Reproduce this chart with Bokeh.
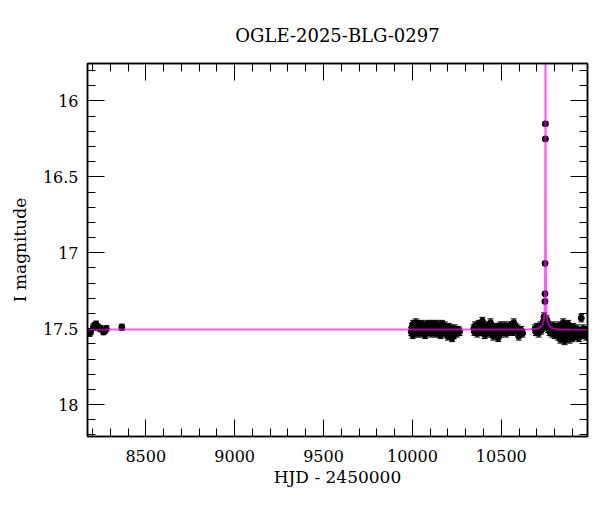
from bokeh.plotting import figure
from bokeh.models import (Whisker, TeeHead, ColumnDataSource, LinearAxis, Range1d,
                          SingleIntervalTicker, CustomJSTickFormatter)
from bokeh.embed import file_html
from bokeh.resources import INLINE

# ---- data (HJD - 2450000, I magnitude) ----
early_t = [8183, 8190, 8205, 8212, 8220, 8232, 8245, 8262, 8270, 8278, 8365]
early_mag = [17.53, 17.52, 17.49, 17.48, 17.47, 17.49, 17.50, 17.52, 17.51, 17.50, 17.49]
early_err = 0.02

s1_t = [9993, 9997, 10001, 10004, 10006, 10009, 10011, 10014, 10017, 10019, 10022, 10025,
        10028, 10031, 10034, 10036, 10039, 10043, 10046, 10049, 10052, 10055, 10058, 10062,
        10065, 10069, 10072, 10075, 10079, 10082, 10086, 10089, 10093, 10096, 10100, 10103,
        10107, 10110, 10114, 10117, 10121, 10124, 10128, 10131, 10135, 10138, 10142, 10145,
        10149, 10152, 10156, 10159, 10163, 10166, 10170, 10174, 10178, 10182, 10186, 10190,
        10195, 10199, 10204, 10209, 10214, 10219, 10224, 10228, 10233, 10238, 10244, 10251,
        10258, 10265]
s1_mag = [17.52, 17.49, 17.54, 17.47, 17.51, 17.50, 17.48, 17.53, 17.50, 17.46, 17.52, 17.49,
          17.51, 17.47, 17.53, 17.50, 17.48, 17.52, 17.49, 17.51, 17.47, 17.53, 17.50, 17.48,
          17.52, 17.49, 17.54, 17.48, 17.51, 17.50, 17.47, 17.52, 17.49, 17.51, 17.48, 17.53,
          17.50, 17.47, 17.52, 17.49, 17.51, 17.48, 17.53, 17.50, 17.47, 17.52, 17.50, 17.48,
          17.53, 17.51, 17.49, 17.54, 17.50, 17.47, 17.52, 17.49, 17.51, 17.48, 17.53, 17.50,
          17.52, 17.55, 17.49, 17.51, 17.53, 17.50, 17.56, 17.52, 17.54, 17.50, 17.52, 17.53,
          17.51, 17.52]
s1_err = 0.025

s2_t = [10345, 10349, 10353, 10357, 10361, 10365, 10369, 10373, 10377, 10381, 10385, 10389,
        10394, 10398, 10402, 10406, 10410, 10414, 10418, 10422, 10426, 10430, 10434, 10439,
        10443, 10447, 10451, 10455, 10459, 10463, 10467, 10471, 10475, 10479, 10483, 10487,
        10491, 10495, 10499, 10503, 10507, 10511, 10515, 10519, 10523, 10527, 10531, 10535,
        10539, 10543, 10547, 10551, 10555, 10560, 10565, 10570, 10575, 10580, 10586, 10592,
        10598, 10604, 10612, 10620]
s2_mag = [17.50, 17.52, 17.48, 17.51, 17.49, 17.53, 17.50, 17.47, 17.52, 17.49, 17.51, 17.48,
          17.45, 17.52, 17.50, 17.54, 17.49, 17.51, 17.48, 17.53, 17.50, 17.52, 17.49, 17.46,
          17.51, 17.53, 17.50, 17.55, 17.52, 17.49, 17.54, 17.51, 17.53, 17.50, 17.56, 17.49,
          17.51, 17.48, 17.53, 17.50, 17.52, 17.49, 17.51, 17.48, 17.50, 17.53, 17.51, 17.49,
          17.52, 17.50, 17.48, 17.51, 17.50, 17.48, 17.52, 17.46, 17.50, 17.49, 17.51, 17.50,
          17.55, 17.52, 17.51, 17.53]
s2_err = 0.025

s3_t = [10690, 10695, 10700, 10705, 10710, 10715, 10720, 10725, 10730, 10734, 10738, 10741,
        10755, 10760, 10764, 10768, 10772, 10776, 10780, 10784, 10788, 10792, 10796, 10800,
        10804, 10808, 10812, 10816, 10820, 10824, 10828, 10832, 10836, 10840, 10844, 10848,
        10852, 10856, 10860, 10864, 10868, 10872, 10876, 10880, 10884, 10888, 10892, 10896,
        10900, 10905, 10910, 10915, 10920, 10926, 10932, 10938, 10944, 10950, 10955, 10960,
        10966, 10972, 10978]
s3_mag = [17.50, 17.52, 17.49, 17.51, 17.53, 17.50, 17.48, 17.51, 17.49, 17.47, 17.45, 17.42,
          17.44, 17.47, 17.50, 17.48, 17.52, 17.49, 17.51, 17.53, 17.50, 17.48, 17.52, 17.54,
          17.50, 17.49, 17.53, 17.51, 17.55, 17.48, 17.52, 17.57, 17.50, 17.54, 17.49, 17.46,
          17.53, 17.58, 17.51, 17.49, 17.55, 17.52, 17.47, 17.53, 17.57, 17.50, 17.54, 17.51,
          17.56, 17.49, 17.53, 17.51, 17.55, 17.50, 17.53, 17.56, 17.52, 17.43, 17.54, 17.50,
          17.53, 17.51, 17.55]
s3_err = 0.025

peak_t = [10745.5, 10745.8, 10746.5, 10747.8, 10748.0]
peak_mag = [17.32, 17.27, 17.07, 16.25, 16.15]
peak_err = 0.012

# model light curve
model_t = [8170, 10650, 10700, 10720, 10730, 10736, 10740, 10742, 10744, 10745, 10745.5,
           10746.5, 10747.8, 10748.0, 10748.8, 10749.5, 10750.2, 10751, 10752, 10753, 10755,
           10758, 10762, 10770, 10785, 10810, 10990]
model_mag = [17.505, 17.505, 17.50, 17.49, 17.48, 17.46, 17.43, 17.40, 17.36, 17.34, 17.31,
             17.08, 16.25, 16.12, 15.30, 16.10, 16.80, 17.10, 17.25, 17.33, 17.40, 17.44,
             17.46, 17.48, 17.495, 17.505, 17.505]

title_text = "OGLE-2025-BLG-0297"
x_label = "HJD - 2450000"
y_label = "I magnitude"

# ---- assemble ----
t_all, m_all, e_all = [], [], []
for ts, ms, er in [(early_t, early_mag, early_err), (s1_t, s1_mag, s1_err),
                   (s2_t, s2_mag, s2_err), (s3_t, s3_mag, s3_err),
                   (peak_t, peak_mag, peak_err)]:
    for tt, mm in zip(ts, ms):
        t_all.append(tt)
        m_all.append(mm)
        e_all.append(er)

src = ColumnDataSource(dict(t=t_all, m=m_all,
                            lo=[m - e for m, e in zip(m_all, e_all)],
                            hi=[m + e for m, e in zip(m_all, e_all)]))

FONT = "DejaVu Serif"

p = figure(width=592, height=504, output_backend="svg", toolbar_location=None,
           x_range=Range1d(8172, 10985), y_range=Range1d(18.21, 15.753),
           x_axis_location=None, y_axis_location=None,
           min_border_left=87, min_border_right=5, min_border_top=63, min_border_bottom=68,
           title=title_text)
p.grid.visible = False
p.outline_line_color = "black"
p.outline_line_width = 1.5

p.title.align = "center"
p.title.text_font = FONT
p.title.text_font_size = "18px"
p.title.text_font_style = "normal"
p.title.text_color = "black"
p.title.standoff = 35

xt = SingleIntervalTicker(interval=500, num_minor_ticks=5)
yt = SingleIntervalTicker(interval=0.5, num_minor_ticks=5)
yfmt = CustomJSTickFormatter(code="return String(Math.round(tick*10)/10);")
blank = CustomJSTickFormatter(code="return '';")

bottom = LinearAxis(ticker=xt, axis_label=x_label)
left = LinearAxis(ticker=yt, formatter=yfmt, axis_label=y_label)
top = LinearAxis(ticker=xt, formatter=blank)
right = LinearAxis(ticker=yt, formatter=blank)

for ax in (bottom, left, top, right):
    ax.major_tick_in = 17
    ax.major_tick_out = 0
    ax.minor_tick_in = 8
    ax.minor_tick_out = 0
    ax.axis_line_color = "black"
    ax.axis_line_width = 1.5
    ax.major_tick_line_color = "black"
    ax.minor_tick_line_color = "black"
    ax.major_label_text_font = FONT
    ax.major_label_text_font_size = "16px"
    ax.major_label_text_color = "black"
    ax.axis_label_text_font = FONT
    ax.axis_label_text_font_size = "17px"
    ax.axis_label_text_font_style = "normal"
    ax.axis_label_text_color = "black"

for ax in (top, right):
    ax.major_label_standoff = 0

bottom.major_label_standoff = 13
bottom.axis_label_standoff = 2
left.major_label_standoff = 9
left.axis_label_standoff = 10

p.add_layout(bottom, "below")
p.add_layout(left, "left")
p.add_layout(top, "above")
p.add_layout(right, "right")

# data points with error bars
p.add_layout(Whisker(source=src, base="t", lower="lo", upper="hi", dimension="height",
                     line_color="black", line_width=1,
                     upper_head=TeeHead(size=6, line_color="black", line_width=1),
                     lower_head=TeeHead(size=6, line_color="black", line_width=1)))
p.scatter("t", "m", source=src, size=6, color="black")

# model
p.line(model_t, model_mag, line_color="#ff00ff", line_alpha=0.65, line_width=2)

open("out.html", "w").write(file_html(p, INLINE))
